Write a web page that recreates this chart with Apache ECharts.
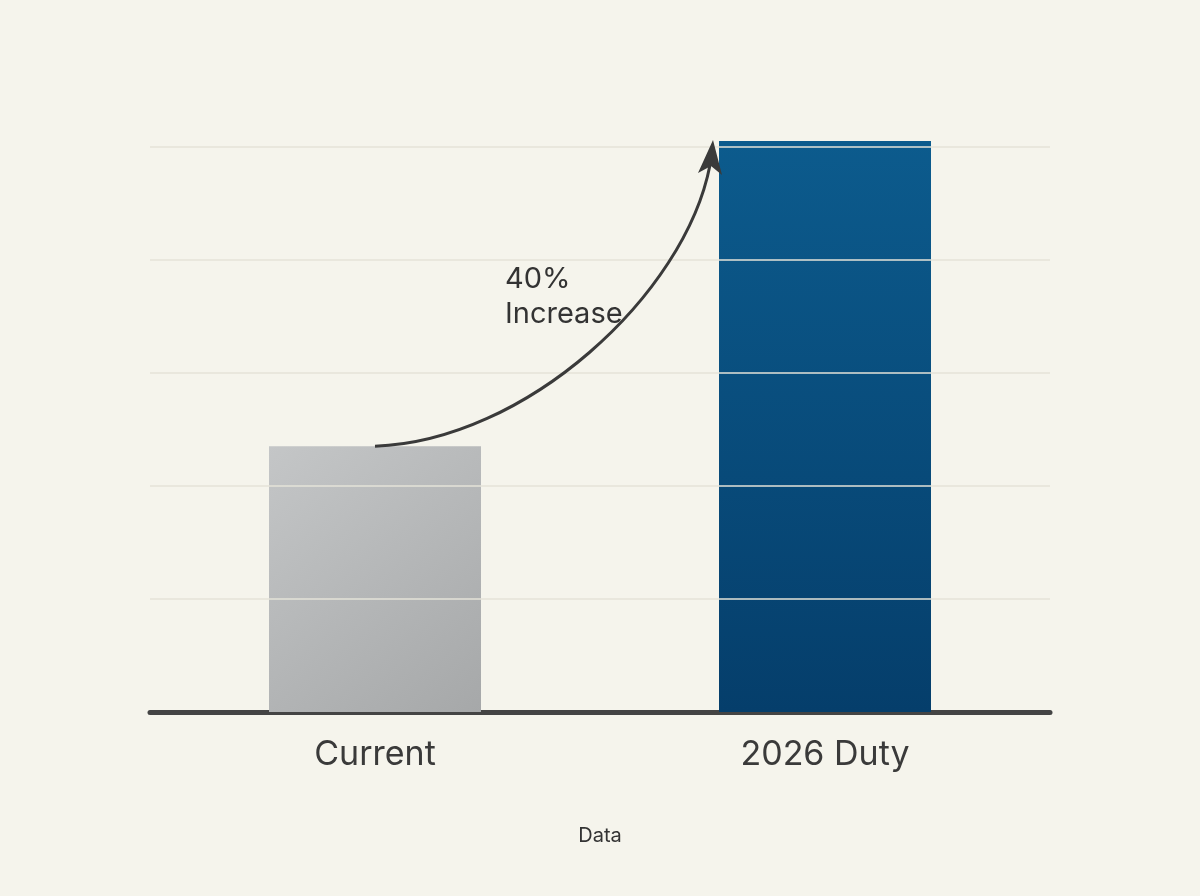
<!DOCTYPE html>
<html>
<head>
<meta charset="utf-8">
<script src="https://cdn.jsdelivr.net/npm/echarts@6/dist/echarts.min.js"></script>
<style>html,body{margin:0;background:#f5f4ec}#main{width:1200px;height:896px}</style>
</head>
<body>
<div id="main"></div>
<script>
var categories = ['Current', '2026 Duty'];
var values = [47, 101];
var gridValues = [20, 40, 60, 80, 100];

var myChart = echarts.init(document.getElementById('main'));
var option = {
    backgroundColor: '#f5f4ec',
    grid: {left: 150, right: 150, top: 124, bottom: 184},
    xAxis: {
        type: 'category',
        data: categories,
        name: 'Data',
        nameLocation: 'middle',
        nameGap: 114,
        nameTextStyle: {fontFamily: 'Inter', fontSize: 20, color: '#333'},
        axisLine: {lineStyle: {color: '#444', width: 5}},
        axisTick: {show: false},
        axisLabel: {fontFamily: 'Inter', fontSize: 34, color: '#3a3a3a', margin: 26}
    },
    yAxis: {
        type: 'value', min: 0, max: 104,
        show: false
    },
    series: [{
        type: 'bar',
        barWidth: 212,
        data: [
            {value: values[0], itemStyle: {color: new echarts.graphic.LinearGradient(0, 0, 1, 1, [
                {offset: 0, color: '#c4c6c7'}, {offset: 1, color: '#a6a8a9'}])}},
            {value: values[1], itemStyle: {color: new echarts.graphic.LinearGradient(0, 0, 0, 1, [
                {offset: 0, color: '#0c5b8d'}, {offset: 1, color: '#053e6b'}])}}
        ],
        markLine: {
            silent: true, symbol: 'none', label: {show: false},
            lineStyle: {color: '#e4e3d9', type: 'solid', width: 1.5},
            data: gridValues.map(function (v) { return {yAxis: v}; })
        },
        z: 3
    }]
};
myChart.setOption(option);

var p0 = myChart.convertToPixel({seriesIndex: 0}, [0, values[0]]);
var p1 = myChart.convertToPixel({seriesIndex: 0}, [1, values[1]]);
var ex = p1[0] - 115, ey = p1[1] + 4;
myChart.setOption({
    graphic: [
        {type: 'bezierCurve', z: 10,
         shape: {x1: p0[0], y1: p0[1], cpx1: p0[0] + 150, cpy1: p0[1] - 5,
                 cpx2: ex - 25, cpy2: ey + 150, x2: ex, y2: ey + 20},
         style: {stroke: '#3a3a3a', lineWidth: 3, fill: null}},
        {type: 'polygon', z: 10,
         shape: {points: [[ex + 3, ey - 5], [ex - 12, ey + 28], [ex + 1, ey + 21], [ex + 12, ey + 30]]},
         style: {fill: '#3a3a3a'}},
        {type: 'text', z: 10, left: 505, top: 262,
         style: {text: '40%\nIncrease', align: 'center', fontFamily: 'Inter', fontSize: 29,
                 lineHeight: 35, fill: '#333', x: 60}}
    ]
});
</script>
</body>
</html>
